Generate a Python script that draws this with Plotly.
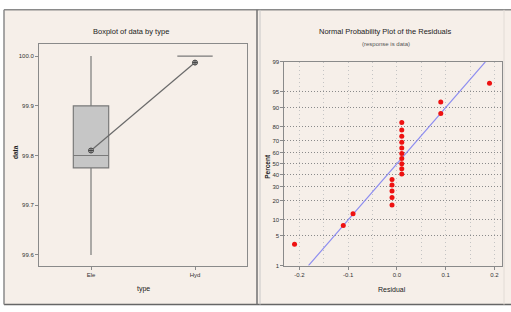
import plotly.graph_objects as go
from statistics import NormalDist

# ---------------- data ----------------
box_categories = ["Ele", "Hyd"]
box_q1 = [99.775, 100.0]
box_median = [99.8, 100.0]
box_q3 = [99.9, 100.0]
box_low = [99.6, 100.0]
box_high = [100.0, 100.0]
box_means = [99.81, 99.987]
box_yticks = [99.6, 99.7, 99.8, 99.9, 100.0]
box_yticklabels = ["99.6", "99.7", "99.8", "99.9", "100.0"]

resid = [-0.21, -0.11, -0.09,
         -0.01, -0.01, -0.01, -0.01, -0.01,
         0.01, 0.01, 0.01, 0.01, 0.01, 0.01, 0.01, 0.01, 0.01, 0.01,
         0.09, 0.09, 0.19]
percent = [3.3, 7.9, 12.6,
           17.3, 22.0, 26.6, 31.3, 36.0,
           40.7, 45.3, 50.0, 54.7, 59.3, 64.0, 68.7, 73.4, 78.0, 82.7,
           87.4, 92.1, 96.7]
fit_mean = 0.0
fit_sigma = 0.078
pct_ticks = [1, 5, 10, 20, 30, 40, 50, 60, 70, 80, 90, 95, 99]
resid_ticks = [-0.2, -0.1, 0.0, 0.1, 0.2]
resid_ticklabels = ["-0.2", "-0.1", "0.0", "0.1", "0.2"]

# ---------------- geometry helpers ----------------
W, H = 511, 312
def px(x):
    return x / W
def py(y):
    return 1 - y / H

nd = NormalDist()
z = [nd.inv_cdf(p / 100) for p in percent]
z_ticks = [nd.inv_cdf(p / 100) for p in pct_ticks]
z_lo, z_hi = nd.inv_cdf(0.01), nd.inv_cdf(0.99)

FONT = "Liberation Sans"

fig = go.Figure()

# Boxplot
fig.add_trace(go.Box(
    x=[0, 1], q1=box_q1, median=box_median, q3=box_q3,
    lowerfence=box_low, upperfence=box_high,
    width=0.34, whiskerwidth=0,
    fillcolor="#c6c6c6", line=dict(color="#7a7a7a", width=1.2),
    boxpoints=False, xaxis="x", yaxis="y", showlegend=False, hoverinfo="skip"))
fig.add_trace(go.Scatter(
    x=[0, 1], y=box_means, mode="lines+markers",
    line=dict(color="#6a6a6a", width=1.2),
    marker=dict(symbol="circle-cross", size=5, color="#bbbbbb",
                line=dict(color="#444444", width=1)),
    xaxis="x", yaxis="y", showlegend=False, hoverinfo="skip"))

# Normal probability plot
fit_x = [fit_mean + fit_sigma * z_lo, fit_mean + fit_sigma * z_hi]
fig.add_trace(go.Scatter(
    x=fit_x, y=[z_lo, z_hi], mode="lines",
    line=dict(color="#8c8cf0", width=1.2),
    xaxis="x2", yaxis="y2", showlegend=False, hoverinfo="skip"))
fig.add_trace(go.Scatter(
    x=resid, y=z, mode="markers",
    marker=dict(color="#ee1111", size=5),
    xaxis="x2", yaxis="y2", showlegend=False, hoverinfo="skip"))

tickfont = dict(family=FONT, size=6, color="#333333")
axis_common = dict(showline=True, linecolor="#8a8a8a", linewidth=1, mirror=True,
                   ticks="outside", ticklen=3, tickcolor="#8a8a8a",
                   tickfont=tickfont, zeroline=False)

fig.update_layout(
    width=W, height=H, margin=dict(l=0, r=0, t=0, b=0),
    paper_bgcolor="white", plot_bgcolor="white",
    xaxis=dict(domain=[px(39), px(247)], range=[-0.5, 1.5],
               tickvals=[0, 1], ticktext=box_categories, showgrid=False,
               anchor="y", **axis_common),
    yaxis=dict(domain=[py(268), py(42)], range=[99.578, 100.024],
               tickvals=box_yticks, ticktext=box_yticklabels, showgrid=False,
               anchor="x", **axis_common),
    xaxis2=dict(domain=[px(284.3), px(501.7)], range=[-0.231, 0.215],
                tickvals=resid_ticks, ticktext=resid_ticklabels,
                showgrid=True, gridcolor="#c4c4c4", griddash="1px,3px", gridwidth=1,
                minor=dict(dtick=0.05, tick0=0, showgrid=True, gridcolor="#c4c4c4",
                           griddash="1px,3px", gridwidth=1, ticks=""),
                anchor="y2", **axis_common),
    yaxis2=dict(domain=[py(267.7), py(60)], range=[z_lo, z_hi],
                tickvals=z_ticks, ticktext=[str(p) for p in pct_ticks],
                showgrid=True, gridcolor="#8a8a8a", griddash="1px,2px", gridwidth=1,
                anchor="x2", **axis_common),
)

# panel frames
shapes = [
    dict(type="rect", xref="paper", yref="paper", x0=px(4), x1=px(511), y0=py(307.5), y1=py(7),
         fillcolor="#f6efe9", line=dict(width=0), layer="below"),
    dict(type="line", xref="paper", yref="paper", x0=px(4), x1=px(511), y0=py(7), y1=py(7),
         line=dict(color="#8a8a8a", width=1.5)),
    dict(type="line", xref="paper", yref="paper", x0=px(4), x1=px(511), y0=py(307.5), y1=py(307.5),
         line=dict(color="#666666", width=1.5)),
    dict(type="line", xref="paper", yref="paper", x0=px(4), x1=px(4), y0=py(307.5), y1=py(7),
         line=dict(color="#8a8a8a", width=1.5)),
    dict(type="line", xref="paper", yref="paper", x0=px(257), x1=px(257), y0=py(307.5), y1=py(7),
         line=dict(color="#707070", width=1.5)),
    dict(type="line", xref="paper", yref="paper", x0=px(260), x1=px(260), y0=py(307.5), y1=py(7),
         line=dict(color="#c8c8c8", width=1)),
    dict(type="line", xref="paper", yref="paper", x0=px(504), x1=px(504), y0=py(307.5), y1=py(7),
         line=dict(color="#e2dcd6", width=1)),
]
fig.update_layout(shapes=shapes)

ann = [
    dict(text="Boxplot of data by type", x=px(131), y=py(29), size=7.5, angle=0, color="#222222"),
    dict(text="type", x=px(143), y=py(292), size=7, angle=0, color="#222222"),
    dict(text="<b>data</b>", x=px(15), y=py(152), size=6.5, angle=-90, color="#222222"),
    dict(text="Normal Probability Plot of the Residuals", x=px(385), y=py(29), size=7.5, angle=0, color="#222222"),
    dict(text="(response is data)", x=px(386), y=py(42), size=6, angle=0, color="#555555"),
    dict(text="Residual", x=px(392), y=py(292), size=7, angle=0, color="#222222"),
    dict(text="<b>Percent</b>", x=px(268), y=py(167), size=6.5, angle=-90, color="#222222"),
]
fig.update_layout(annotations=[
    dict(text=a["text"], x=a["x"], y=a["y"], xref="paper", yref="paper",
         xanchor="center", yanchor="middle", showarrow=False, textangle=a["angle"],
         font=dict(family=FONT, size=a["size"], color=a["color"]))
    for a in ann
])

fig.write_html("out.html", config={"displayModeBar": False},
               post_script="document.body.style.margin='0';document.body.style.overflow='hidden';")
